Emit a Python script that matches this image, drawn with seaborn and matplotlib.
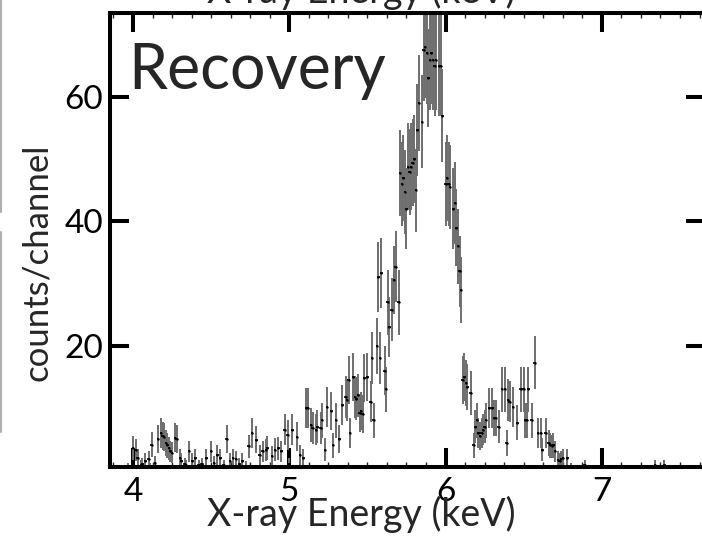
import numpy as np
import matplotlib
matplotlib.use("Agg")
import matplotlib.pyplot as plt
from matplotlib.ticker import MultipleLocator, FixedLocator
from matplotlib.lines import Line2D
import seaborn as sns
import pandas as pd

# Channel energies (keV), counts per channel and 1-sigma errors
energy_keV = [
    3.88, 3.91, 3.94, 3.97, 4.00, 4.02, 4.03, 4.05, 4.06, 4.08,
    4.10, 4.11, 4.12, 4.14, 4.16, 4.18, 4.19, 4.20, 4.21, 4.22,
    4.23, 4.24, 4.25, 4.27, 4.28, 4.30, 4.31, 4.33, 4.34, 4.36,
    4.38, 4.40, 4.42, 4.44, 4.45, 4.47, 4.50, 4.52, 4.54, 4.56,
    4.58, 4.60, 4.62, 4.64, 4.66, 4.68, 4.70, 4.72, 4.74, 4.76,
    4.79, 4.81, 4.83, 4.85, 4.86, 4.89, 4.91, 4.93, 4.95, 4.97,
    4.99, 5.00, 5.02, 5.05, 5.07, 5.09, 5.11, 5.12, 5.14, 5.15,
    5.17, 5.18, 5.20, 5.21, 5.23, 5.24, 5.27, 5.28, 5.30, 5.32,
    5.34, 5.36, 5.37, 5.38, 5.39, 5.41, 5.42, 5.43, 5.44, 5.45,
    5.46, 5.47, 5.48, 5.50, 5.52, 5.53, 5.54, 5.56, 5.57, 5.58,
    5.59, 5.61, 5.62, 5.63, 5.64, 5.655, 5.67, 5.68, 5.70, 5.71,
    5.72, 5.73, 5.74, 5.75, 5.76, 5.77, 5.78, 5.79, 5.80, 5.81,
    5.82, 5.83, 5.85, 5.86, 5.87, 5.88, 5.89, 5.90, 5.91, 5.92,
    5.93, 5.94, 5.96, 5.97, 5.98, 6.00, 6.01, 6.02, 6.03, 6.05,
    6.06, 6.07, 6.08, 6.09, 6.10, 6.11, 6.12, 6.13, 6.14, 6.16,
    6.18, 6.19, 6.20, 6.21, 6.22, 6.23, 6.24, 6.25, 6.26, 6.28,
    6.30, 6.31, 6.32, 6.34, 6.36, 6.38, 6.39, 6.40, 6.41, 6.43,
    6.46, 6.48, 6.50, 6.51, 6.52, 6.53, 6.55, 6.57, 6.59, 6.61,
    6.62, 6.64, 6.66, 6.67, 6.68, 6.69, 6.70, 6.72, 6.73, 6.74,
    6.75, 6.78, 6.80, 6.83, 6.86, 6.89, 6.92, 6.95, 6.98, 7.01,
    7.04, 7.07, 7.10, 7.13, 7.16, 7.19, 7.22, 7.25, 7.28, 7.31,
    7.34, 7.37, 7.40, 7.43, 7.46, 7.49, 7.52, 7.55, 7.58, 7.61,
    7.64,
]

counts = [
    0.2, 0.3, 0.2, 0.5, 3.6, 3.2, 2.0, 0.8, 1.0, 1.5,
    1.8, 0.5, 4.1, 1.2, 5.0, 6.0, 5.5, 5.3, 4.4, 4.0,
    3.5, 3.0, 2.8, 5.2, 5.0, 2.0, 1.5, 1.0, 0.8, 3.0,
    1.5, 2.0, 0.8, 1.0, 0.5, 2.0, 3.0, 1.2, 2.5, 2.0,
    0.8, 5.0, 1.5, 2.0, 1.8, 1.0, 1.5, 0.6, 3.8, 6.0,
    4.9, 2.5, 3.0, 3.2, 3.6, 2.3, 3.3, 3.5, 3.0, 6.5,
    5.7, 1.0, 6.5, 5.4, 2.5, 2.0, 10.0, 10.0, 7.3, 6.8,
    6.5, 7.0, 6.8, 8.0, 3.3, 10.2, 9.5, 4.0, 8.0, 5.0,
    10.5, 11.8, 11.3, 14.5, 6.0, 15.0, 11.8, 11.5, 12.0, 9.2,
    9.5, 9.0, 14.8, 15.0, 11.0, 18.0, 8.0, 20.0, 31.0, 18.0,
    31.7, 16.0, 13.0, 27.0, 23.0, 25.8, 30.6, 32.7, 27.0, 47.8,
    46.0, 47.0, 44.7, 42.0, 48.8, 48.0, 48.8, 49.4, 50.0, 45.0,
    54.7, 59.0, 56.0, 67.5, 68.0, 67.0, 63.0, 66.0, 67.0, 66.0,
    65.0, 66.0, 65.0, 65.0, 57.0, 46.0, 47.0, 46.0, 45.5, 42.0,
    43.0, 39.0, 36.0, 32.0, 29.0, 14.5, 15.0, 14.0, 13.4, 12.4,
    4.0, 7.0, 8.0, 6.0, 5.5, 6.0, 6.5, 7.0, 8.0, 10.0,
    10.0, 8.4, 8.4, 7.0, 13.0, 13.0, 4.4, 11.3, 11.0, 10.2,
    7.6, 13.0, 13.0, 8.0, 8.0, 13.0, 8.0, 17.3, 6.0, 6.0,
    3.3, 6.0, 4.4, 4.0, 3.8, 4.0, 3.0, 1.7, 1.5, 1.8,
    2.0, 2.0, 0.5, 0.3, 0.4, 0.8, 0.3, 0.2, 0.4, 0.3,
    0.2, 0.3, 0.2, 0.3, 0.2, 0.3, 0.2, 0.3, 0.2, 0.3,
    0.9, 0.3, 0.9, 0.3, 0.2, 0.3, 0.2, 0.3, 0.2, 0.3,
    0.2,
]

count_err = [
    0.3, 0.3, 0.3, 0.6, 1.9, 1.8, 1.4, 0.9, 1.0, 1.2,
    1.3, 0.7, 2.0, 1.1, 2.2, 2.4, 2.3, 2.3, 2.1, 2.0,
    1.9, 1.7, 1.7, 2.3, 2.2, 1.4, 1.2, 1.0, 0.9, 1.7,
    1.2, 1.4, 0.9, 1.0, 0.7, 1.4, 1.7, 1.1, 1.6, 1.4,
    0.9, 2.2, 1.2, 1.4, 1.3, 1.0, 1.2, 0.8, 1.9, 2.4,
    2.2, 1.6, 1.7, 1.8, 1.9, 1.5, 1.8, 1.9, 1.7, 2.5,
    2.4, 1.0, 2.5, 2.3, 1.6, 1.4, 3.2, 3.2, 2.7, 2.6,
    2.5, 2.6, 2.6, 2.8, 1.8, 3.2, 3.1, 2.0, 2.8, 2.2,
    3.2, 3.4, 3.4, 3.8, 2.4, 3.9, 3.4, 3.4, 3.5, 3.0,
    3.1, 3.0, 3.8, 3.9, 3.3, 4.2, 2.8, 4.5, 5.6, 4.2,
    5.6, 4.0, 3.6, 5.2, 4.8, 5.1, 5.5, 5.7, 5.2, 6.9,
    6.8, 6.9, 6.7, 6.5, 7.0, 6.9, 7.0, 7.0, 7.1, 6.7,
    7.4, 7.7, 7.5, 8.2, 8.2, 8.2, 7.9, 8.1, 8.2, 8.1,
    8.1, 8.1, 8.1, 8.1, 7.5, 6.8, 6.9, 6.8, 6.7, 6.5,
    6.6, 6.2, 6.0, 5.7, 5.3, 3.8, 3.9, 3.7, 3.7, 3.5,
    2.0, 2.6, 2.8, 2.4, 2.3, 2.4, 2.5, 2.6, 2.8, 3.2,
    3.2, 2.9, 2.9, 2.6, 3.6, 3.6, 2.1, 3.4, 3.3, 3.2,
    2.8, 3.6, 3.6, 2.8, 2.8, 3.6, 2.8, 4.2, 2.4, 2.4,
    1.8, 2.4, 2.1, 2.0, 1.9, 2.0, 1.7, 1.3, 1.2, 1.3,
    1.4, 1.4, 0.6, 0.4, 0.5, 0.8, 0.4, 0.3, 0.5, 0.4,
    0.3, 0.4, 0.3, 0.4, 0.3, 0.4, 0.3, 0.4, 0.3, 0.4,
    0.8, 0.4, 0.8, 0.4, 0.3, 0.4, 0.3, 0.4, 0.3, 0.4,
    0.3,
]

bin_halfwidth_keV = 0.008
x_major = [4, 5, 6, 7]
y_major = [20, 40, 60]

spec = pd.DataFrame({"energy": energy_keV, "counts": counts, "err": count_err})

sns.set_style("ticks")
plt.rcParams["font.family"] = ["Lato", "DejaVu Sans"]

fig = plt.figure(figsize=(7.02, 5.38), dpi=100)
ax = fig.add_axes([110 / 702, 1 - 467 / 538, 595 / 702, 454 / 538])

# vertical error bars (grey) and channel widths (black)
ax.errorbar(spec["energy"], spec["counts"], yerr=spec["err"], fmt="none",
            ecolor="#6e6e6e", elinewidth=1.4, capsize=0, zorder=2)
ax.errorbar(spec["energy"], spec["counts"], xerr=bin_halfwidth_keV, fmt="none",
            ecolor="black", elinewidth=1.2, capsize=0, zorder=3)
sns.scatterplot(data=spec, x="energy", y="counts", ax=ax, s=3,
                color="black", linewidth=0, zorder=4, legend=False)

ax.set_xlim(3.853, 7.66)
ax.set_ylim(0.5, 73.5)

ax.xaxis.set_major_locator(FixedLocator(x_major))
ax.xaxis.set_minor_locator(MultipleLocator(0.125))
ax.yaxis.set_major_locator(FixedLocator(y_major))

for s in ax.spines.values():
    s.set_linewidth(2.9)
    s.set_color("black")

ax.tick_params(which="major", direction="in", length=14, width=2.9,
               top=True, right=True, labelsize=24, pad=5, colors="black")
ax.tick_params(axis="x", which="minor", direction="in", length=3.5, width=1,
               top=True, bottom=True)
ax.tick_params(axis="x", which="major", pad=7)

ax.set_xlabel("X-ray Energy (keV)", fontsize=27)
ax.xaxis.set_label_coords(251 / 595, -0.064)
ax.set_ylabel("counts/channel", fontsize=25)
ax.yaxis.set_label_coords(-0.095, 0.45)

ax.text(0.030, 0.832, "Recovery", transform=ax.transAxes, fontsize=45,
        ha="left", va="baseline")

# lower edge of the panel above, and the frame line of the panel to the left
fig.text(361 / 702, 1 - 3 / 538, "X-ray Energy (keV)", fontsize=27,
         ha="center", va="baseline")
fig.add_artist(Line2D([1 / 702, 1 / 702], [1, 1 - 212 / 538],
                      transform=fig.transFigure, color="#b0b0b0", lw=1.5))
fig.add_artist(Line2D([1 / 702, 1 / 702], [1 - 232 / 538, 1 - 432 / 538],
                      transform=fig.transFigure, color="#b0b0b0", lw=1.5))

fig.savefig("out.png", dpi=100)
